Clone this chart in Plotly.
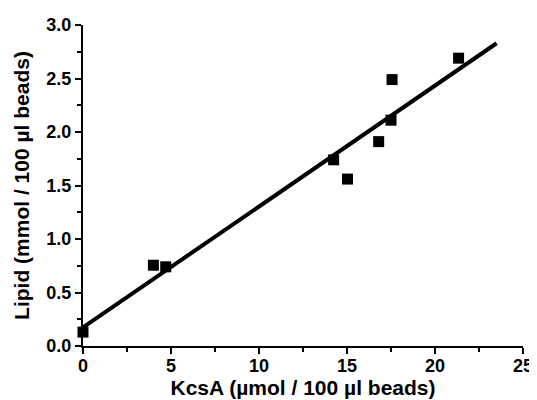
import numpy as np
import plotly.graph_objects as go

kcsa = [0.0, 4.0, 4.7, 14.24, 15.03, 16.8, 17.5, 17.56, 21.34]
lipid = [0.13, 0.755, 0.74, 1.74, 1.56, 1.91, 2.11, 2.49, 2.69]
fit_x_range = [0.0, 23.5]

slope, intercept = np.polyfit(kcsa, lipid, 1)
fit_x = np.array(fit_x_range)
fit_y = intercept + slope * fit_x

fig = go.Figure()
fig.add_trace(go.Scatter(x=fit_x, y=fit_y, mode="lines",
                         line=dict(color="black", width=4), cliponaxis=False,
                         showlegend=False, hoverinfo="skip"))
fig.add_trace(go.Scatter(x=kcsa, y=lipid, mode="markers",
                         marker=dict(symbol="square", size=11, color="black"),
                         cliponaxis=False, showlegend=False))

fam = "Liberation Sans, Arial, sans-serif"
axis_common = dict(showline=True, linecolor="black", linewidth=2, showgrid=False,
                   zeroline=False, ticks="outside", ticklen=6, tickwidth=2,
                   tickcolor="black", mirror=False, automargin=False,
                   tickfont=dict(family=fam, size=18, color="black", weight="bold"))
fig.update_layout(
    width=529, height=392,
    margin=dict(l=75, r=14, t=17, b=54),
    paper_bgcolor="white", plot_bgcolor="white",
    font=dict(family=fam, size=16, color="black"),
    xaxis=dict(range=[0, 25], tickvals=[0, 5, 10, 15, 20, 25],
               ticklabelstandoff=-4,
               minor=dict(tickvals=[2.5, 7.5, 12.5, 17.5, 22.5], ticks="outside",
                          ticklen=4, tickwidth=2, tickcolor="black"),
               title=dict(text="KcsA (µmol / 100 µl beads)", standoff=4,
                          font=dict(family=fam, size=21, weight="bold", color="black")),
               **axis_common),
    yaxis=dict(range=[0, 3], tickvals=[0, 0.5, 1.0, 1.5, 2.0, 2.5, 3.0],
               tickformat=".1f",
               minor=dict(tickvals=[0.25, 0.75, 1.25, 1.75, 2.25, 2.75], ticks="outside",
                          ticklen=4, tickwidth=2, tickcolor="black"),
               title=dict(text="Lipid (mmol / 100 µl beads)", standoff=11,
                          font=dict(family=fam, size=21, weight="bold", color="black")),
               **axis_common),
)
fig.write_html("out.html")
